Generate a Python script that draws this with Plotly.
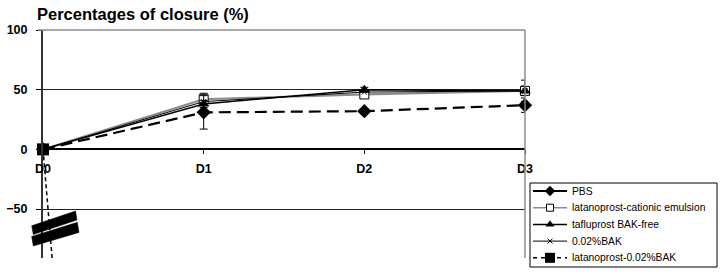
import plotly.graph_objects as go

# ---------------- data ----------------
days = ["D0", "D1", "D2", "D3"]
xpos = [0, 1, 2, 3]
pbs = [0, 31, 32, 37]
pbs_err = [0, 14, 2, 6]
lat_ce = [0, 42, 46, 49]
lat_ce_err = [0, 5, 2, 9]
taf = [0, 38, 50, 49]
taf_err = [0, 3, 2, 4]
bak = [0, 40, 48, 49]
lat_bak = [0, -1600, None, None]
series_names = ["PBS", "latanoprost-cationic emulsion", "tafluprost BAK-free",
                "0.02%BAK", "latanoprost-0.02%BAK"]
y_ticks = [-50, 0, 50, 100]

W, H = 722, 279
PX0, PX1, PY0, PY1 = 43, 525, 30, 258     # main plot area (pixels)
LX0, LX1, LY0, LY1 = 530, 717, 183, 267   # legend box (pixels)
YMIN, YMAX = -91, 100
FONT = "Liberation Sans, Arial, sans-serif"


def fx(px):
    return px / W


def fy(py):
    return 1 - py / H


fig = go.Figure()

# ---------- plotted series ----------
fig.add_trace(go.Scatter(x=xpos, y=lat_ce, mode="lines+markers", showlegend=False,
                         line=dict(color="#8c8c8c", width=2.2),
                         marker=dict(symbol="square", size=9, color="white",
                                     line=dict(color="black", width=1)),
                         error_y=dict(type="data", array=lat_ce_err, color="black",
                                      thickness=1, width=4),
                         cliponaxis=False))
fig.add_trace(go.Scatter(x=xpos, y=bak, mode="lines+markers", showlegend=False,
                         line=dict(color="black", width=1),
                         marker=dict(symbol="x-thin", size=5,
                                     line=dict(color="black", width=1)),
                         cliponaxis=False))
fig.add_trace(go.Scatter(x=xpos, y=taf, mode="lines+markers", showlegend=False,
                         line=dict(color="black", width=1.5),
                         marker=dict(symbol="triangle-up", size=10, color="black"),
                         error_y=dict(type="data", array=taf_err, color="black",
                                      thickness=1, width=4),
                         cliponaxis=False))
fig.add_trace(go.Scatter(x=xpos, y=pbs, mode="lines+markers", showlegend=False,
                         line=dict(color="black", width=2.2, dash="12px,6px"),
                         marker=dict(symbol="diamond", size=11, color="black"),
                         error_y=dict(type="data", array=pbs_err, color="black",
                                      thickness=1, width=4),
                         cliponaxis=False))
fig.add_trace(go.Scatter(x=xpos, y=lat_bak, mode="lines+markers", showlegend=False,
                         line=dict(color="black", width=1.5, dash="4px,3px"),
                         marker=dict(symbol="square", size=12, color="black"),
                         cliponaxis=False))

# ---------- hand-built legend (second, hidden subplot) ----------
leg_lines = [
    dict(color="black", width=2),
    dict(color="#8c8c8c", width=1.5),
    dict(color="black", width=1.5),
    dict(color="black", width=1),
    dict(color="black", width=1.5, dash="4px,4px"),
]
leg_markers = [
    dict(symbol="diamond", size=8, color="black"),
    dict(symbol="square", size=7, color="white", line=dict(color="black", width=1)),
    dict(symbol="triangle-up", size=8, color="black"),
    dict(symbol="x-thin", size=5, line=dict(color="black", width=1)),
    dict(symbol="square", size=10, color="black"),
]
SAMPLE_X = [0.016, 0.198]
MARK_X = 0.107
TEXT_X = 0.212
annotations = []
for i, (name, ln, mk) in enumerate(zip(series_names, leg_lines, leg_markers)):
    fig.add_trace(go.Scatter(x=SAMPLE_X, y=[i, i], mode="lines", line=ln,
                             showlegend=False, xaxis="x2", yaxis="y2"))
    fig.add_trace(go.Scatter(x=[MARK_X], y=[i], mode="markers", marker=mk,
                             showlegend=False, xaxis="x2", yaxis="y2", cliponaxis=False))
    annotations.append(dict(text=name, xref="x2", yref="y2", x=TEXT_X, y=i,
                            xanchor="left", yanchor="middle", showarrow=False,
                            font=dict(size=10.3, family=FONT, color="black")))

# ---------- decoration ----------
shapes = [
    dict(type="line", xref="paper", yref="paper", x0=fx(PX0 - 5), x1=fx(PX1),
         y0=fy(PY0), y1=fy(PY0), line=dict(color="#8c8c8c", width=1.5), layer="above"),
    dict(type="line", xref="paper", yref="paper", x0=fx(PX1), x1=fx(PX1),
         y0=fy(PY1), y1=fy(PY0), line=dict(color="#8c8c8c", width=1.5), layer="above"),
    dict(type="rect", xref="paper", yref="paper", x0=fx(LX0), x1=fx(LX1),
         y0=fy(LY1), y1=fy(LY0), line=dict(color="black", width=1),
         fillcolor="rgba(0,0,0,0)", layer="above"),
]
slabs = [
    [(31.7, 225.7), (75.5, 211), (77, 220), (33.3, 234.5)],
    [(31.7, 236.5), (77.3, 222.3), (79, 232.5), (33.3, 246)],
]
for poly in slabs:
    path = "M " + " L ".join(f"{fx(a):.4f},{fy(b):.4f}" for a, b in poly) + " Z"
    shapes.append(dict(type="path", xref="paper", yref="paper", path=path,
                       fillcolor="black", line=dict(color="black", width=0.5),
                       layer="above"))

annotations.append(dict(text="Percentages of closure (%)", xref="paper", yref="paper",
                        x=fx(35), y=fy(3), xanchor="left", yanchor="top",
                        showarrow=False,
                        font=dict(size=16.5, weight="bold", family=FONT, color="black")))

zero_py = PY0 + (YMAX - 0) / (YMAX - YMIN) * (PY1 - PY0)

fig.update_layout(
    width=W, height=H,
    margin=dict(l=0, r=0, t=0, b=0, autoexpand=False),
    paper_bgcolor="white", plot_bgcolor="white",
    font=dict(family=FONT, color="black"),
    showlegend=False,
    shapes=shapes,
    annotations=annotations,
    xaxis=dict(domain=[fx(PX0), fx(PX1)], range=[0, 3], tickvals=xpos, ticktext=days,
               anchor="free", position=fy(zero_py),
               showline=True, linecolor="black", linewidth=1.5,
               ticks="outside", ticklen=4, tickcolor="black",
               showgrid=False, zeroline=False, ticklabelstandoff=4,
               tickfont=dict(size=12.5, weight="bold", family=FONT)),
    yaxis=dict(domain=[fy(PY1), fy(PY0)], range=[YMIN, YMAX], tickvals=y_ticks,
               anchor="x",
               showline=True, linecolor="#333333", linewidth=2,
               ticks="outside", ticklen=5, tickcolor="black",
               showgrid=True, gridcolor="#222222", gridwidth=1,
               zeroline=False, ticklabelstandoff=6,
               tickfont=dict(size=12.5, weight="bold", family=FONT)),
    xaxis2=dict(domain=[fx(LX0), fx(LX1)], range=[0, 1], visible=False,
                anchor="y2", fixedrange=True),
    yaxis2=dict(domain=[fy(LY1), fy(LY0)], range=[4.55, -0.48], visible=False,
                anchor="x2", fixedrange=True),
)

fig.write_html("out.html")
